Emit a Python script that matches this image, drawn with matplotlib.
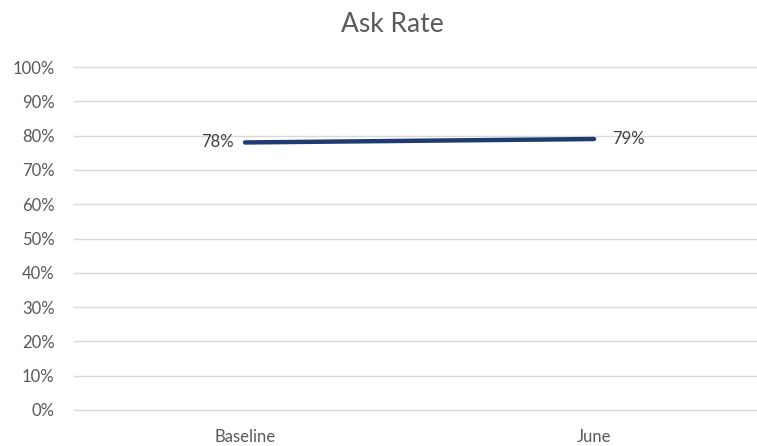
import matplotlib.pyplot as plt
from matplotlib.ticker import PercentFormatter

# Daten
kategorien = ["Baseline", "June"]
werte = [0.78, 0.79]
y_ticks = [0.0, 0.1, 0.2, 0.3, 0.4, 0.5, 0.6, 0.7, 0.8, 0.9, 1.0]

plt.rcParams['font.family'] = ['Lato', 'DejaVu Sans']
grau = "#595959"

fig = plt.figure(figsize=(7.57, 4.46), dpi=100)
ax = fig.add_axes([74/757, 1 - 410/446, 1 - 74/757, (410 - 67)/446])

x = list(range(len(kategorien)))
ax.plot(x, werte, color="#203a72", linewidth=3.2, solid_capstyle="round", zorder=3)

# Beschriftungen der Punkte
ax.annotate(f"{werte[0]:.0%}", (x[0], werte[0]), xytext=(-8, 0), textcoords="offset points",
            ha="right", va="center", fontsize=12, color="#404040")
ax.annotate(f"{werte[1]:.0%}", (x[1], werte[1]), xytext=(13, 0), textcoords="offset points",
            ha="left", va="center", fontsize=12, color="#404040")

ax.set_ylim(0, 1)
ax.set_xlim(-0.49, 1.467)
ax.set_yticks(y_ticks)
ax.yaxis.set_major_formatter(PercentFormatter(1.0, decimals=0))
ax.set_xticks(x)
ax.set_xticklabels(kategorien)
ax.tick_params(axis="both", length=0, colors=grau, labelsize=12)
ax.tick_params(axis="y", pad=14)
ax.tick_params(axis="x", pad=14)
ax.grid(axis="y", color="#d9d9d9", linewidth=1)
for gl in ax.get_ygridlines():
    gl.set_clip_on(False)
ax.set_axisbelow(True)
for s in ax.spines.values():
    s.set_visible(False)

fig.text(392/757, 1 - 24/446, "Ask Rate", ha="center", va="center", fontsize=19, color=grau)

fig.savefig("out.png", dpi=100)
